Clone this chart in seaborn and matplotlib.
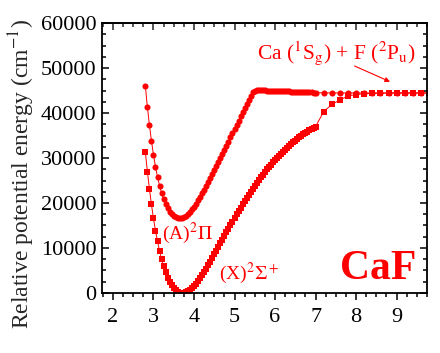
import matplotlib
matplotlib.use("Agg")
import matplotlib.pyplot as plt
from matplotlib.ticker import MultipleLocator
import seaborn as sns

# ---------------- data ----------------
r_X = [2.80, 2.85, 2.90, 2.95, 3.00, 3.05, 3.10, 3.15, 3.20, 3.25, 3.30, 3.35, 3.40, 3.45,
       3.50, 3.55, 3.60, 3.65, 3.70, 3.75, 3.80, 3.85, 3.90, 3.95, 4.00, 4.05, 4.10, 4.15,
       4.20, 4.25, 4.30, 4.35, 4.40, 4.45, 4.50, 4.55, 4.60, 4.65, 4.70, 4.75, 4.80, 4.85,
       4.90, 4.95, 5.00, 5.05, 5.10, 5.15, 5.20, 5.25, 5.30, 5.35, 5.40, 5.45, 5.50, 5.55,
       5.60, 5.65, 5.70, 5.75, 5.80, 5.85, 5.90, 5.95, 6.00, 6.05, 6.10, 6.15, 6.20, 6.25,
       6.30, 6.35, 6.40, 6.45, 6.50, 6.55, 6.60, 6.65, 6.70, 6.75, 6.80, 6.85, 6.90, 6.95,
       7.00, 7.2, 7.4, 7.6, 7.8, 8.0, 8.2, 8.4, 8.6, 8.8, 9.0, 9.2, 9.4, 9.6, 9.8]
E_X = [31300, 26990, 23170, 19670, 16590, 13860, 11460, 9350, 7510, 5930, 4570, 3430, 2480, 1700,
       1090, 630, 300, 100, 8, 21, 147, 374, 692, 1090, 1558, 2090, 2673, 3307,
       3979, 4683, 5420, 6178, 6957, 7753, 8557, 9371, 10193, 11014, 11839, 12656, 13476, 14287,
       15094, 15887, 16678, 17455, 18216, 18969, 19709, 20439, 21150, 21849, 22527, 23197, 23851, 24487,
       25112, 25722, 26316, 26894, 27450, 27998, 28537, 29053, 29558, 30046, 30523, 30981, 31429, 31865,
       32288, 32699, 33096, 33482, 33853, 34211, 34563, 34900, 35232, 35550, 35853, 36157, 36440, 36720,
       36988, 40300, 41900, 42900, 43800, 44100, 44300, 44380, 44420, 44440, 44450, 44450, 44450, 44450, 44450]

r_A = [2.80, 2.85, 2.90, 2.95, 3.00, 3.05, 3.10, 3.15, 3.20, 3.25, 3.30, 3.35, 3.40, 3.45,
       3.50, 3.55, 3.60, 3.65, 3.70, 3.75, 3.80, 3.85, 3.90, 3.95, 4.00, 4.05, 4.10, 4.15,
       4.20, 4.25, 4.30, 4.35, 4.40, 4.45, 4.50, 4.55, 4.60, 4.65, 4.70, 4.75, 4.80, 4.85,
       4.90, 4.95, 5.00, 5.05, 5.10, 5.15, 5.20, 5.25, 5.30, 5.35, 5.40, 5.45, 5.50, 5.55,
       5.60, 5.65, 5.70, 5.75, 5.80, 5.85, 5.90, 5.95, 6.00, 6.05, 6.10, 6.15, 6.20, 6.25,
       6.30, 6.35, 6.40, 6.45, 6.50, 6.55, 6.60, 6.65, 6.70, 6.75, 6.80, 6.85, 6.90, 6.95,
       7.00, 7.2, 7.4, 7.6, 7.8, 8.0, 8.2, 8.4, 8.6, 8.8, 9.0, 9.2, 9.4, 9.6, 9.8]
E_A = [45990, 41360, 37320, 33810, 30730, 28080, 25800, 23870, 22230, 20870, 19740, 18830, 18110, 17560,
       17160, 16900, 16750, 16700, 16760, 16930, 17200, 17570, 18030, 18570, 19180, 19850, 20570, 21330,
       22120, 22940, 23780, 24640, 25510, 26390, 27280, 28180, 29080, 29990, 30900, 31820, 32740, 33660,
       34590, 35520, 36450, 37380, 38310, 39240, 40170, 41100, 42030, 42960, 43890, 44600, 45000, 45100,
       45080, 45060, 45040, 45020, 45000, 44980, 44960, 44940, 44920, 44900, 44880, 44860, 44840, 44820,
       44800, 44780, 44760, 44740, 44720, 44700, 44680, 44660, 44640, 44620, 44600, 44580, 44560, 44540,
       44520, 44480, 44470, 44460, 44460, 44450, 44450, 44450, 44450, 44450, 44450, 44450, 44450, 44450, 44450]

x_ticks = [2, 3, 4, 5, 6, 7, 8, 9]
y_ticks = [0, 10000, 20000, 30000, 40000, 50000, 60000]

# ---------------- style ----------------
sns.set_style("ticks")
plt.rcParams['font.family'] = ['Liberation Serif', 'DejaVu Serif']
plt.rcParams['mathtext.fontset'] = 'stix'

RED = '#ff0000'
fig = plt.figure(figsize=(4.4, 3.53), dpi=100)
ax = fig.add_axes([0.2318, 0.170, 0.7387, 0.7648])

sns.lineplot(x=r_X, y=E_X, ax=ax, color=RED, linewidth=0.7, marker='s', markersize=3.8,
             markeredgewidth=0, estimator=None, sort=False)
sns.lineplot(x=r_A, y=E_A, ax=ax, color=RED, linewidth=0.7, marker='o', markersize=4.4,
             markeredgewidth=0, estimator=None, sort=False)

ax.set_xlim(1.73, 9.75)
ax.set_ylim(0, 60000)
ax.set_xticks(x_ticks)
ax.set_yticks(y_ticks)
ax.xaxis.set_minor_locator(MultipleLocator(0.25))
ax.yaxis.set_minor_locator(MultipleLocator(2500))
for s in ax.spines.values():
    s.set_visible(True)
    s.set_linewidth(1.3)
    s.set_color('black')
ax.tick_params(axis='both', which='both', labelsize=16, colors='black', width=1.1)
ax.tick_params(axis='y', which='both', direction='in', left=True, right=True, pad=4)
ax.tick_params(axis='x', which='both', direction='out', bottom=True, top=False, pad=6)
ax.tick_params(which='major', length=5)
ax.tick_params(which='minor', length=3)
# top ticks pointing inward
ax2 = ax.secondary_xaxis('top')
ax2.set_xticks(x_ticks)
ax2.xaxis.set_minor_locator(MultipleLocator(0.25))
ax2.tick_params(which='both', direction='in', labeltop=False, width=1.1)
ax2.tick_params(which='major', length=5)
ax2.tick_params(which='minor', length=3)
ax2.spines['top'].set_linewidth(1.3)

ax.set_xlabel('')
ax.set_ylabel(r'Relative potential energy (cm$^{-1}$)', fontsize=17)
ax.yaxis.set_label_coords(-0.2, 0.44)

ax.text(3.22, 13300, r'(A)$^2\Pi$', color=RED, fontsize=14, ha='left', va='center')
ax.text(4.62, 4300, r'(X)$^2\Sigma^+$', color=RED, fontsize=14, ha='left', va='center')
ax.text(8.55, 5300, 'CaF', color=RED, fontsize=30, fontweight='bold', ha='center', va='center')
ax.text(5.55, 53300, r'Ca ($^1$S$_\mathrm{g}$) + F ($^2$P$_\mathrm{u}$)', color=RED, fontsize=15.5,
        ha='left', va='center')
ax.annotate('', xy=(8.9, 46700), xytext=(7.9, 50700),
            arrowprops=dict(arrowstyle='-|>', color=RED, lw=0.8, mutation_scale=7))

fig.savefig('out.png', dpi=100)
